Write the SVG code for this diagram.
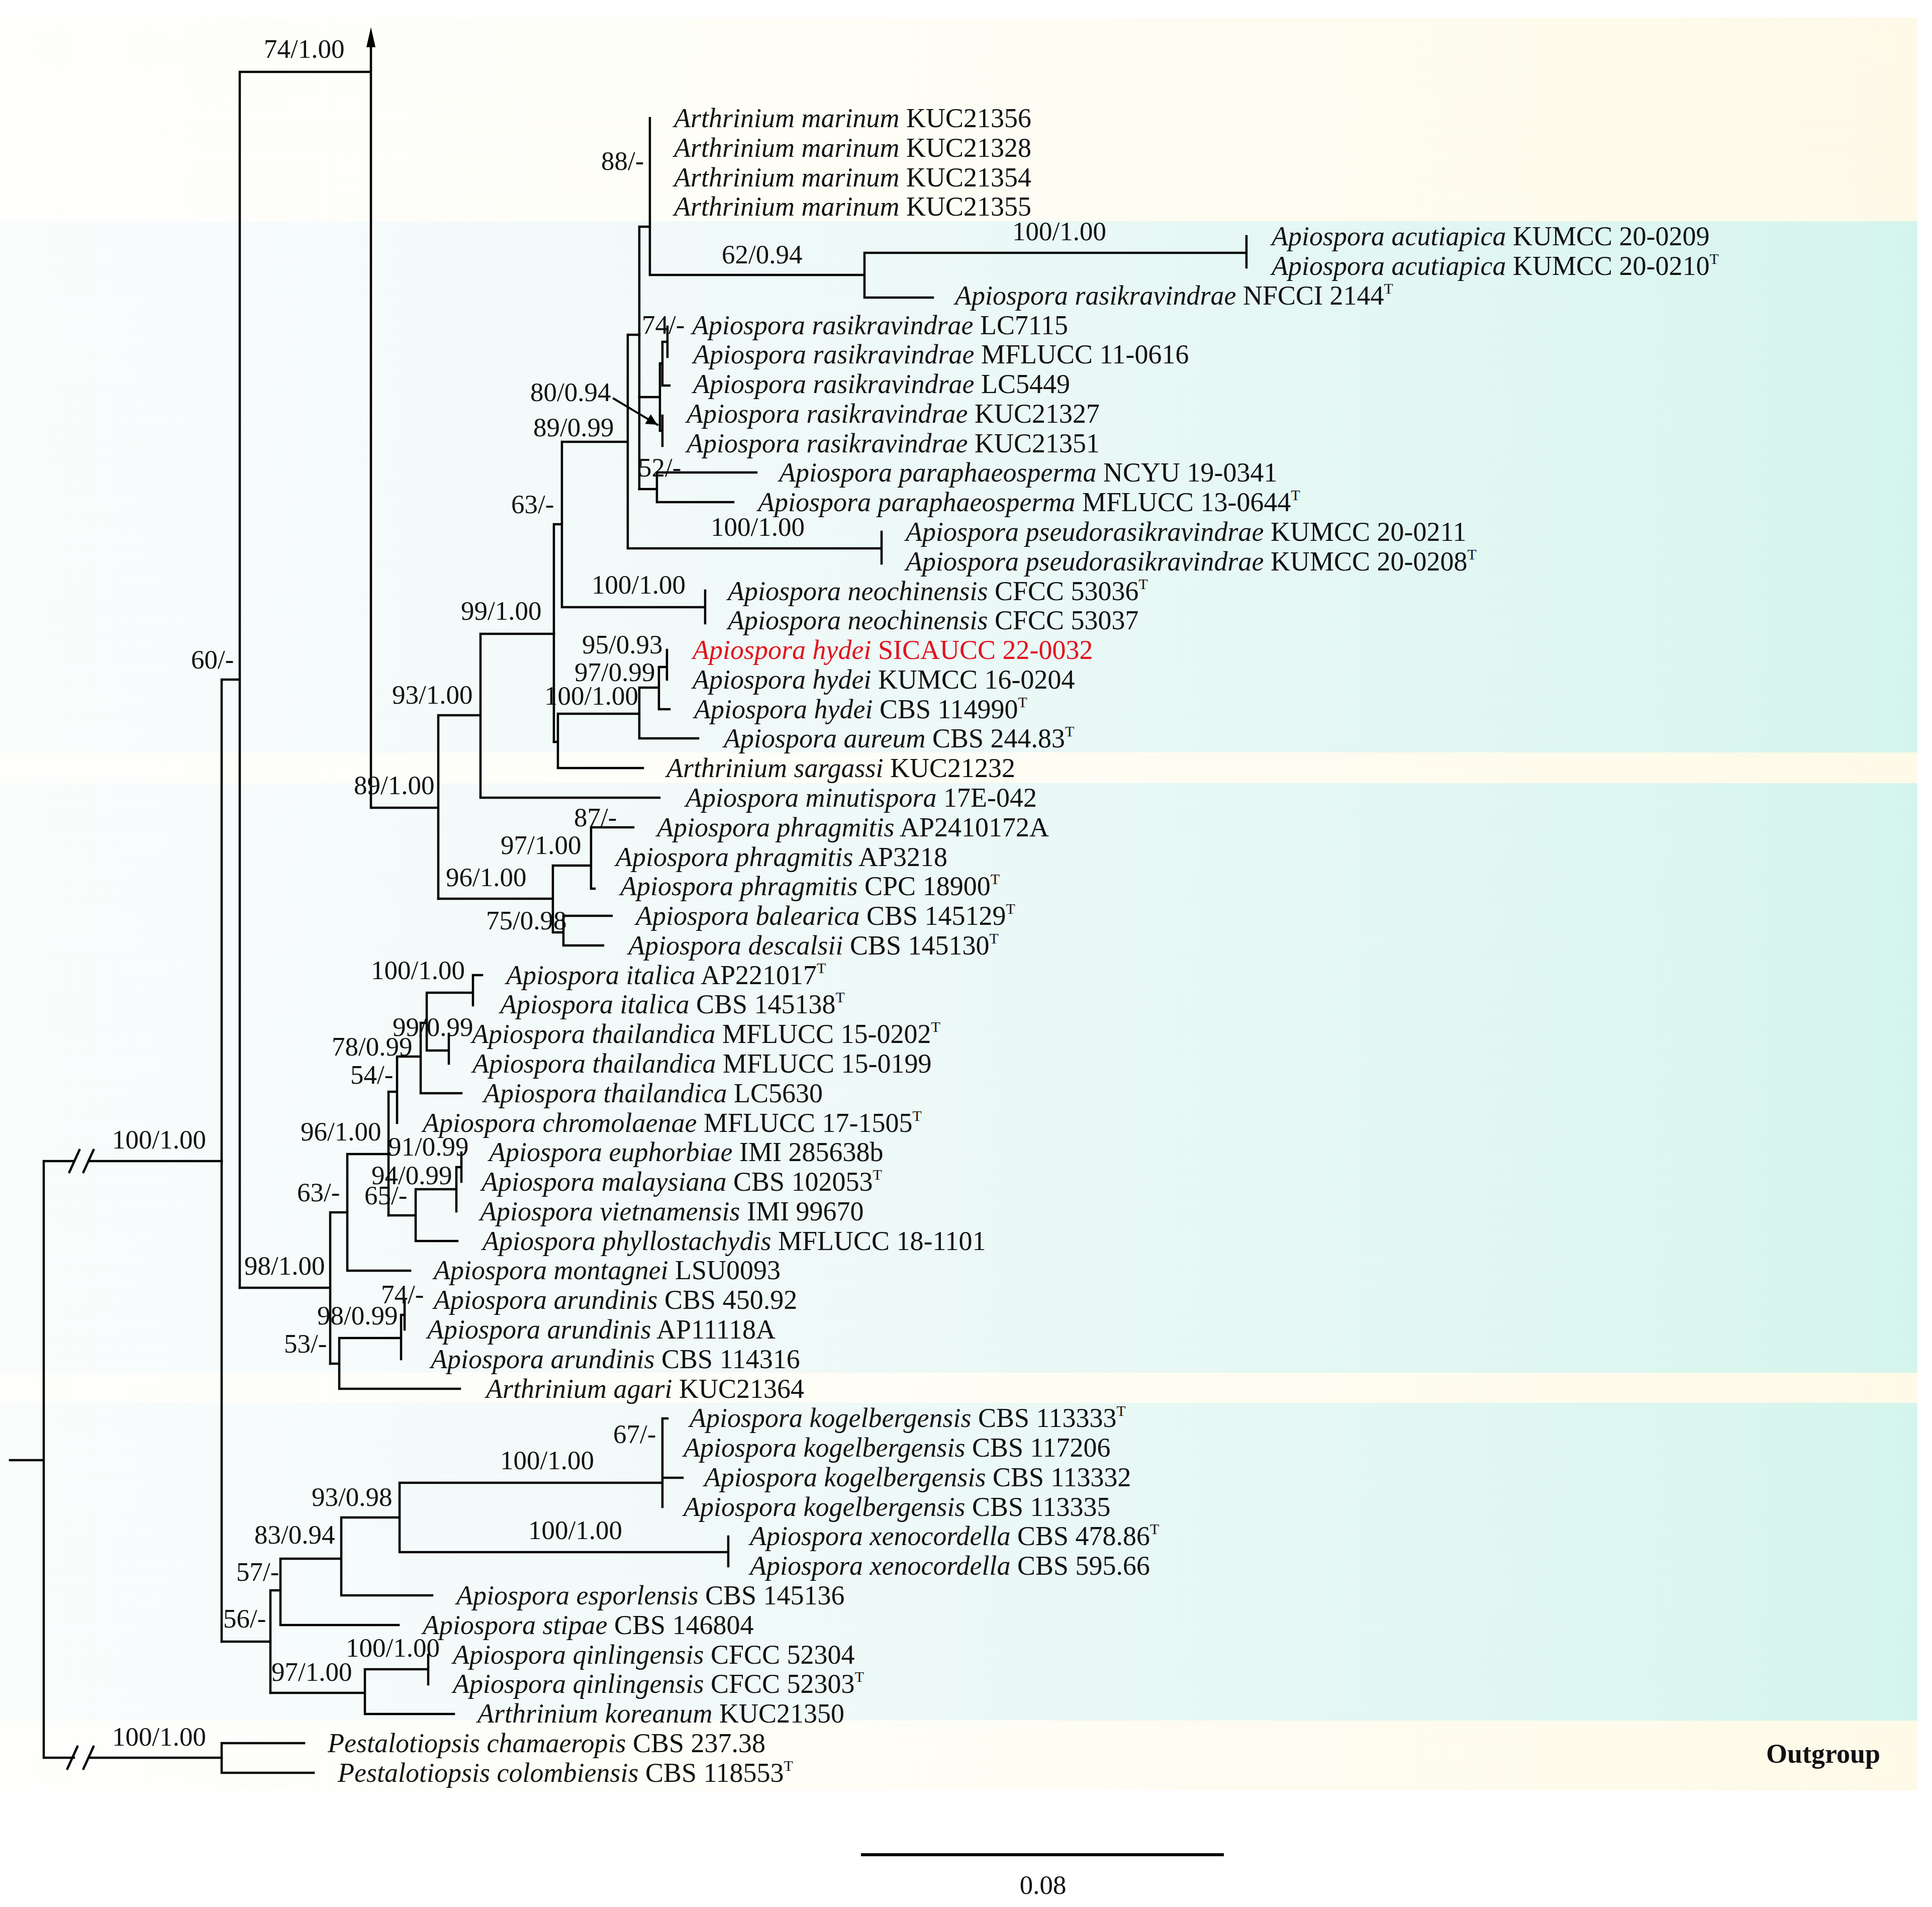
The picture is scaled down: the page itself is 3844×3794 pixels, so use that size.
<svg xmlns="http://www.w3.org/2000/svg" width="3844" height="3794" viewBox="0 0 3844 3794">
<defs>
<linearGradient id="gTeal" x1="0" y1="0" x2="1" y2="0">
<stop offset="0" stop-color="#fafcfc"/><stop offset="0.3" stop-color="#f3fafa"/><stop offset="0.6" stop-color="#e8f8f5"/><stop offset="0.85" stop-color="#ddf6f0"/><stop offset="1" stop-color="#d5f5ec"/>
</linearGradient>
<linearGradient id="gCream" x1="0" y1="0" x2="1" y2="0">
<stop offset="0" stop-color="#fefefd"/><stop offset="0.5" stop-color="#fefdf5"/><stop offset="1" stop-color="#fefae8"/>
</linearGradient>
<marker id="ah2" viewBox="0 0 10 10" refX="10" refY="5" markerWidth="28" markerHeight="22" orient="auto" markerUnits="userSpaceOnUse">
<path d="M0,0 L10,5 L0,10 z" fill="#000"/>
</marker>
</defs>
<style>
.br{stroke:#000;stroke-width:4.5;fill:none;stroke-linecap:square}
.tx{font-family:"Liberation Serif","Times New Roman",serif;font-size:54px;fill:#111}
.lb{font-family:"Liberation Serif","Times New Roman",serif;font-size:53px;fill:#111}
.i{font-style:italic}
.sup{font-size:30px}
.red{fill:#e3121c}
.bold{font-weight:bold}
</style>
<rect width="3844" height="3794" fill="#ffffff"/>
<g id="bands">
<rect x="0" y="35" width="3815" height="405" fill="url(#gCream)"/>
<rect x="0" y="440" width="3815" height="1057" fill="url(#gTeal)"/>
<rect x="0" y="1497" width="3815" height="61" fill="url(#gCream)"/>
<rect x="0" y="1558" width="3815" height="1173" fill="url(#gTeal)"/>
<rect x="0" y="2731" width="3815" height="60" fill="url(#gCream)"/>
<rect x="0" y="2791" width="3815" height="632" fill="url(#gTeal)"/>
<rect x="0" y="3423" width="3815" height="139" fill="url(#gCream)"/>
</g>
<g id="connectors" class="br">
<path d="M20 2905H87M87 2310V3497M87 2310H147M177 2310H441M138 2332L158 2288M166 2332L186 2288M87 3497H147M177 3497H441M134 3519L154 3475M166 3519L186 3475"/>
<path d="M441 1352V3266M441 1352H477M477 143V2562M477 143H738M738 90V1607M738 1607H872M872 1423V1788M872 1423H956M956 1261V1587M956 1261H1102M956 1587H1312"/>
<path d="M1102 1043V1476M1102 1043H1118M1118 879V1208M1118 879H1249M1118 1208H1403M1403 1175V1240M1249 666V1091M1249 666H1272M1249 1091H1754M1754 1058V1121"/>
<path d="M1272 451V973M1272 451H1293M1293 235V547M1293 547H1720M1720 503V592M1720 503H2480M2480 470V532M1720 592H1856"/>
<path d="M1272 790H1313M1313 723V857M1313 723H1318M1318 680V767M1318 767H1332M1318 680H1328M1328 650V710M1313 857H1318M1318 827V887"/>
<path d="M1272 973H1307M1307 940V999M1307 940H1505M1307 999H1459"/>
<path d="M1102 1476H1110M1110 1420V1528M1110 1420H1272M1110 1528H1279M1272 1368V1469M1272 1469H1389M1272 1368H1311M1311 1327V1411M1311 1411H1332M1311 1327H1327M1327 1293V1352"/>
<path d="M872 1788H1100M1100 1722V1855M1100 1722H1176M1176 1646V1768M1176 1646H1260M1176 1768H1183M1100 1855H1121M1121 1822V1881M1121 1822H1217M1121 1881H1200"/>
<path d="M477 2562H657M657 2412V2713M657 2412H691M691 2296V2528M691 2528H816M691 2296H773M773 2172V2418M773 2172H790M790 2102V2234M790 2102H837M837 2035V2175M837 2175H918M837 2035H849M849 1975V2090M849 1975H941M941 1940V2000M941 1940H959M849 2090H893M893 2057V2116"/>
<path d="M773 2418H827M827 2366V2469M827 2469H910M827 2366H908M908 2322V2410M908 2322H918M918 2293V2351"/>
<path d="M657 2713H675M675 2662V2763M675 2763H915M675 2662H798M798 2616V2704M798 2616H805M805 2587V2645"/>
<path d="M441 3266H538M538 3164V3368M538 3164H558M558 3101V3233M558 3233H793M558 3101H679M679 3019V3174M679 3174H860M679 3019H795M795 2950V3088M795 2950H1318M1318 2822V2998M1318 2822H1328M1318 2940H1358M795 3088H1449M1449 3057V3116"/>
<path d="M538 3368H726M726 3321V3410M726 3410H903M726 3321H852M852 3292V3351"/>
<path d="M441 3468V3527M441 3468H605M441 3527H624"/>
<path d="M738 54L729 94L747 94Z" fill="#000" stroke="none"/>
<path d="M1221 793L1308 845" stroke-width="4" marker-end="url(#ah2)"/>
<path d="M1716 3690H2432" stroke-width="6"/>
</g>
<g id="taxa" class="tx">
<g id="t01"><text x="1341" y="253"><tspan class="i">Arthrinium marinum</tspan> KUC21356</text></g>
<g id="t02"><text x="1341" y="312"><tspan class="i">Arthrinium marinum</tspan> KUC21328</text></g>
<g id="t03"><text x="1341" y="371"><tspan class="i">Arthrinium marinum</tspan> KUC21354</text></g>
<g id="t04"><text x="1341" y="429"><tspan class="i">Arthrinium marinum</tspan> KUC21355</text></g>
<g id="t05"><text x="2530" y="488"><tspan class="i">Apiospora acutiapica</tspan> KUMCC 20-0209</text></g>
<g id="t06"><text x="2530" y="547"><tspan class="i">Apiospora acutiapica</tspan> KUMCC 20-0210<tspan class="sup" dy="-22">T</tspan></text></g>
<g id="t07"><text x="1900" y="606"><tspan class="i">Apiospora rasikravindrae</tspan> NFCCI 2144<tspan class="sup" dy="-22">T</tspan></text></g>
<g id="t08"><text x="1377" y="665"><tspan class="i">Apiospora rasikravindrae</tspan> LC7115</text></g>
<g id="t09"><text x="1379" y="723"><tspan class="i">Apiospora rasikravindrae</tspan> MFLUCC 11-0616</text></g>
<g id="t10"><text x="1379" y="782"><tspan class="i">Apiospora rasikravindrae</tspan> LC5449</text></g>
<g id="t11"><text x="1366" y="841"><tspan class="i">Apiospora rasikravindrae</tspan> KUC21327</text></g>
<g id="t12"><text x="1366" y="900"><tspan class="i">Apiospora rasikravindrae</tspan> KUC21351</text></g>
<g id="t13"><text x="1550" y="958"><tspan class="i">Apiospora paraphaeosperma</tspan> NCYU 19-0341</text></g>
<g id="t14"><text x="1508" y="1017"><tspan class="i">Apiospora paraphaeosperma</tspan> MFLUCC 13-0644<tspan class="sup" dy="-22">T</tspan></text></g>
<g id="t15"><text x="1802" y="1076"><tspan class="i">Apiospora pseudorasikravindrae</tspan> KUMCC 20-0211</text></g>
<g id="t16"><text x="1802" y="1135"><tspan class="i">Apiospora pseudorasikravindrae</tspan> KUMCC 20-0208<tspan class="sup" dy="-22">T</tspan></text></g>
<g id="t17"><text x="1448" y="1194"><tspan class="i">Apiospora neochinensis</tspan> CFCC 53036<tspan class="sup" dy="-22">T</tspan></text></g>
<g id="t18"><text x="1448" y="1252"><tspan class="i">Apiospora neochinensis</tspan> CFCC 53037</text></g>
<g id="t19"><text x="1378" y="1311" class="red"><tspan class="i">Apiospora hydei</tspan> SICAUCC 22-0032</text></g>
<g id="t20"><text x="1378" y="1370"><tspan class="i">Apiospora hydei</tspan> KUMCC 16-0204</text></g>
<g id="t21"><text x="1381" y="1429"><tspan class="i">Apiospora hydei</tspan> CBS 114990<tspan class="sup" dy="-22">T</tspan></text></g>
<g id="t22"><text x="1440" y="1487"><tspan class="i">Apiospora aureum</tspan> CBS 244.83<tspan class="sup" dy="-22">T</tspan></text></g>
<g id="t23"><text x="1326" y="1546"><tspan class="i">Arthrinium sargassi</tspan> KUC21232</text></g>
<g id="t24"><text x="1364" y="1605"><tspan class="i">Apiospora minutispora</tspan> 17E-042</text></g>
<g id="t25"><text x="1307" y="1664"><tspan class="i">Apiospora phragmitis</tspan> AP2410172A</text></g>
<g id="t26"><text x="1225" y="1723"><tspan class="i">Apiospora phragmitis</tspan> AP3218</text></g>
<g id="t27"><text x="1234" y="1781"><tspan class="i">Apiospora phragmitis</tspan> CPC 18900<tspan class="sup" dy="-22">T</tspan></text></g>
<g id="t28"><text x="1265" y="1840"><tspan class="i">Apiospora balearica</tspan> CBS 145129<tspan class="sup" dy="-22">T</tspan></text></g>
<g id="t29"><text x="1250" y="1899"><tspan class="i">Apiospora descalsii</tspan> CBS 145130<tspan class="sup" dy="-22">T</tspan></text></g>
<g id="t30"><text x="1007" y="1958"><tspan class="i">Apiospora italica</tspan> AP221017<tspan class="sup" dy="-22">T</tspan></text></g>
<g id="t31"><text x="995" y="2016"><tspan class="i">Apiospora italica</tspan> CBS 145138<tspan class="sup" dy="-22">T</tspan></text></g>
<g id="t32"><text x="939" y="2075"><tspan class="i">Apiospora thailandica</tspan> MFLUCC 15-0202<tspan class="sup" dy="-22">T</tspan></text></g>
<g id="t33"><text x="940" y="2134"><tspan class="i">Apiospora thailandica</tspan> MFLUCC 15-0199</text></g>
<g id="t34"><text x="962" y="2193"><tspan class="i">Apiospora thailandica</tspan> LC5630</text></g>
<g id="t35"><text x="841" y="2252"><tspan class="i">Apiospora chromolaenae</tspan> MFLUCC 17-1505<tspan class="sup" dy="-22">T</tspan></text></g>
<g id="t36"><text x="973" y="2310"><tspan class="i">Apiospora euphorbiae</tspan> IMI 285638b</text></g>
<g id="t37"><text x="958" y="2369"><tspan class="i">Apiospora malaysiana</tspan> CBS 102053<tspan class="sup" dy="-22">T</tspan></text></g>
<g id="t38"><text x="955" y="2428"><tspan class="i">Apiospora vietnamensis</tspan> IMI 99670</text></g>
<g id="t39"><text x="960" y="2487"><tspan class="i">Apiospora phyllostachydis</tspan> MFLUCC 18-1101</text></g>
<g id="t40"><text x="863" y="2545"><tspan class="i">Apiospora montagnei</tspan> LSU0093</text></g>
<g id="t41"><text x="863" y="2604"><tspan class="i">Apiospora arundinis</tspan> CBS 450.92</text></g>
<g id="t42"><text x="850" y="2663"><tspan class="i">Apiospora arundinis</tspan> AP11118A</text></g>
<g id="t43"><text x="857" y="2722"><tspan class="i">Apiospora arundinis</tspan> CBS 114316</text></g>
<g id="t44"><text x="967" y="2781"><tspan class="i">Arthrinium agari</tspan> KUC21364</text></g>
<g id="t45"><text x="1372" y="2839"><tspan class="i">Apiospora kogelbergensis</tspan> CBS 113333<tspan class="sup" dy="-22">T</tspan></text></g>
<g id="t46"><text x="1360" y="2898"><tspan class="i">Apiospora kogelbergensis</tspan> CBS 117206</text></g>
<g id="t47"><text x="1401" y="2957"><tspan class="i">Apiospora kogelbergensis</tspan> CBS 113332</text></g>
<g id="t48"><text x="1360" y="3016"><tspan class="i">Apiospora kogelbergensis</tspan> CBS 113335</text></g>
<g id="t49"><text x="1492" y="3074"><tspan class="i">Apiospora xenocordella</tspan> CBS 478.86<tspan class="sup" dy="-22">T</tspan></text></g>
<g id="t50"><text x="1492" y="3133"><tspan class="i">Apiospora xenocordella</tspan> CBS 595.66</text></g>
<g id="t51"><text x="908" y="3192"><tspan class="i">Apiospora esporlensis</tspan> CBS 145136</text></g>
<g id="t52"><text x="841" y="3251"><tspan class="i">Apiospora stipae</tspan> CBS 146804</text></g>
<g id="t53"><text x="901" y="3310"><tspan class="i">Apiospora qinlingensis</tspan> CFCC 52304</text></g>
<g id="t54"><text x="901" y="3368"><tspan class="i">Apiospora qinlingensis</tspan> CFCC 52303<tspan class="sup" dy="-22">T</tspan></text></g>
<g id="t55"><text x="950" y="3427"><tspan class="i">Arthrinium koreanum</tspan> KUC21350</text></g>
<g id="t56"><text x="652" y="3486"><tspan class="i">Pestalotiopsis chamaeropis</tspan> CBS 237.38</text></g>
<g id="t57"><text x="672" y="3545"><tspan class="i">Pestalotiopsis colombiensis</tspan> CBS 118553<tspan class="sup" dy="-22">T</tspan></text></g>
</g>
<g id="supports" class="lb">
<g id="s01"><text x="525" y="115">74/1.00</text></g>
<g id="s02"><text x="1196" y="338">88/-</text></g>
<g id="s03"><text x="1436" y="524">62/0.94</text></g>
<g id="s04"><text x="2014" y="478">100/1.00</text></g>
<g id="s05"><text x="1277" y="664">74/-</text></g>
<g id="s06"><text x="1055" y="798">80/0.94</text></g>
<g id="s07"><text x="1061" y="868">89/0.99</text></g>
<g id="s08"><text x="1270" y="948">52/-</text></g>
<g id="s09"><text x="1017" y="1021">63/-</text></g>
<g id="s10"><text x="1414" y="1066">100/1.00</text></g>
<g id="s11"><text x="1177" y="1181">100/1.00</text></g>
<g id="s12"><text x="917" y="1233">99/1.00</text></g>
<g id="s13"><text x="1158" y="1300">95/0.93</text></g>
<g id="s14"><text x="1143" y="1355">97/0.99</text></g>
<g id="s15"><text x="1083" y="1402">100/1.00</text></g>
<g id="s16"><text x="780" y="1400">93/1.00</text></g>
<g id="s17"><text x="704" y="1580">89/1.00</text></g>
<g id="s18"><text x="1142" y="1644">87/-</text></g>
<g id="s19"><text x="996" y="1699">97/1.00</text></g>
<g id="s20"><text x="887" y="1763">96/1.00</text></g>
<g id="s21"><text x="967" y="1849">75/0.98</text></g>
<g id="s22"><text x="738" y="1948">100/1.00</text></g>
<g id="s23"><text x="781" y="2061">99/0.99</text></g>
<g id="s24"><text x="660" y="2100">78/0.99</text></g>
<g id="s25"><text x="697" y="2156">54/-</text></g>
<g id="s26"><text x="598" y="2269">96/1.00</text></g>
<g id="s27"><text x="772" y="2299">91/0.99</text></g>
<g id="s28"><text x="739" y="2356">94/0.99</text></g>
<g id="s29"><text x="725" y="2396">65/-</text></g>
<g id="s30"><text x="591" y="2390">63/-</text></g>
<g id="s31"><text x="486" y="2536">98/1.00</text></g>
<g id="s32"><text x="758" y="2593">74/-</text></g>
<g id="s33"><text x="631" y="2635">98/0.99</text></g>
<g id="s34"><text x="565" y="2691">53/-</text></g>
<g id="s35"><text x="1220" y="2871">67/-</text></g>
<g id="s36"><text x="995" y="2923">100/1.00</text></g>
<g id="s37"><text x="620" y="2996">93/0.98</text></g>
<g id="s38"><text x="1051" y="3062">100/1.00</text></g>
<g id="s39"><text x="506" y="3071">83/0.94</text></g>
<g id="s40"><text x="470" y="3145">57/-</text></g>
<g id="s41"><text x="444" y="3238">56/-</text></g>
<g id="s42"><text x="688" y="3296">100/1.00</text></g>
<g id="s43"><text x="540" y="3344">97/1.00</text></g>
<g id="s44"><text x="380" y="1330">60/-</text></g>
<g id="s45"><text x="223" y="2285">100/1.00</text></g>
<g id="s46"><text x="223" y="3473">100/1.00</text></g>
</g>
<g id="outgroup-label"><text class="tx bold" x="3514" y="3507">Outgroup</text></g>
<g id="scale"><text class="lb" x="2075" y="3768" text-anchor="middle">0.08</text></g>
</svg>
